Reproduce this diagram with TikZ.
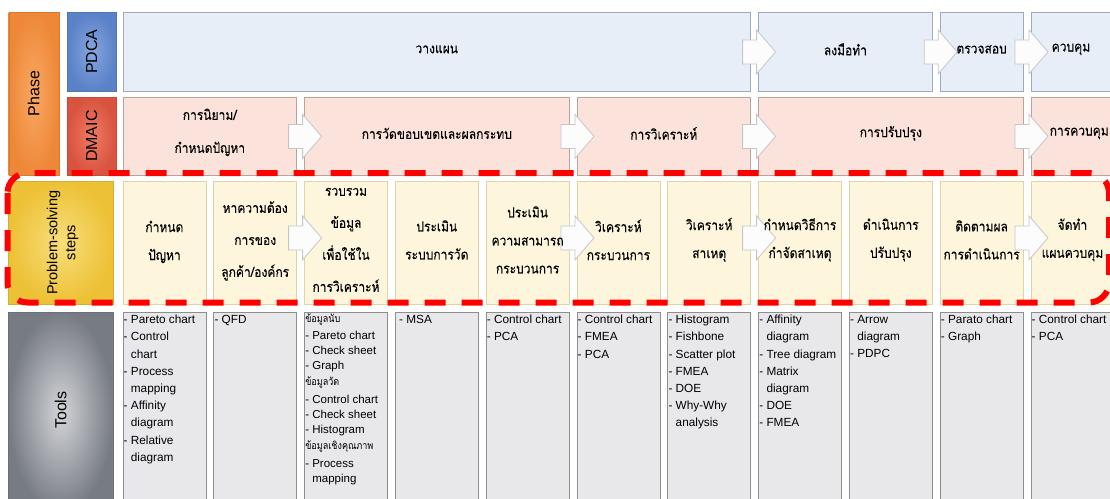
\documentclass[tikz,border=0pt]{standalone}
\usepackage{fontspec}
\setmainfont{Liberation Sans}
\newfontfamily\thai[Script=Thai, FakeStretch=0.86, FakeBold=0.15]{Loma}
\newfontfamily\thainote[Script=Thai, FakeStretch=0.86]{Loma}
\usetikzlibrary{calc}

% label tabs (radial shading: inner / outer)
\definecolor{phaseIn}{HTML}{F9A864}\definecolor{phaseOut}{HTML}{EE8838}
\definecolor{pdcaIn}{HTML}{86A6DE}\definecolor{pdcaOut}{HTML}{5A82C8}
\definecolor{dmaicIn}{HTML}{EE7B64}\definecolor{dmaicOut}{HTML}{D9533F}
\definecolor{psIn}{HTML}{F8DE7A}\definecolor{psOut}{HTML}{EDC136}
\definecolor{toolsIn}{HTML}{D3D5D9}\definecolor{toolsOut}{HTML}{777B83}
% cells
\definecolor{pdcaFill}{HTML}{E8EEF8}\definecolor{pdcaLine}{HTML}{9EABBB}
\definecolor{dmaicFill}{HTML}{FBE3DC}\definecolor{dmaicLine}{HTML}{BBA29B}
\definecolor{psFill}{HTML}{FDF6DD}\definecolor{psLine}{HTML}{DED5A6}
\definecolor{toolFill}{HTML}{E8E8EB}\definecolor{toolLine}{HTML}{8E8E8E}
\definecolor{arrowFill}{HTML}{FCFCFC}\definecolor{arrowLine}{HTML}{C6C6C6}
\definecolor{frameRed}{HTML}{FF0000}

\begin{document}
\begin{tikzpicture}[x=1pt,y=-1pt,
  cell/.style={rectangle, draw, line width=0.8pt, inner sep=0pt, anchor=north west},
  pdcacell/.style={cell, draw=pdcaLine, fill=pdcaFill, minimum height=79pt},
  dmaiccell/.style={cell, draw=dmaicLine, fill=dmaicFill, minimum height=78pt},
  pscell/.style={cell, draw=psLine, fill=psFill, minimum height=123pt, minimum width=83pt},
  toolcell/.style={cell, draw=toolLine, fill=toolFill, minimum height=200pt, minimum width=83pt},
  tag/.style={rectangle, inner sep=0pt, anchor=north west, draw=#1Out!90!black,
    line width=0.4pt, inner color=#1In, outer color=#1Out},
  tagtext/.style={font=\fontsize{16}{18}\selectfont, rotate=90, inner sep=0pt, align=center},
  thaitext/.style={font=\thai\fontsize{14}{28}\selectfont, align=center, inner sep=0pt},
  thaiwide/.style={font=\thai\fontsize{14}{32}\selectfont, align=center, inner sep=0pt},
  tooltext/.style={font=\fontsize{11.8}{17.2}\selectfont, align=left, anchor=north west, inner sep=0pt},
  blockarrow/.pic={\draw[draw=arrowLine, fill=arrowFill, line width=0.8pt]
    (-12,-12) -- (2,-12) -- (2,-22) -- (21,0) -- (2,22) -- (2,12) -- (-12,12) -- cycle;},
  dashframe/.style={draw=frameRed, line width=6pt, dash pattern=on 21pt off 16pt,
    rounded corners=20pt}
]
\useasboundingbox (0,0) rectangle (1110,498);
\clip (0,0) rectangle (1110,498);

% ---- row headers ----
\node[tag=phase, minimum width=50pt, minimum height=163pt] (phase) at (8.5,12) {};
\node[tagtext] (phaseT) at (phase.center) {Phase};
\node[tag=pdca, minimum width=49pt, minimum height=79pt] (pdca) at (67,12) {};
\node[tagtext] (pdcaT) at (pdca.center) {PDCA};
\node[tag=dmaic, minimum width=49pt, minimum height=78pt] (dmaic) at (67,97) {};
\node[tagtext] (dmaicT) at (dmaic.center) {DMAIC};
\node[tag=ps, minimum width=105pt, minimum height=123pt] (ps) at (8,181) {};
\node[tagtext, font=\fontsize{14.5}{18}\selectfont] (psT) at ([xshift=2pt]ps.center) {Problem-solving\\steps};
\node[tag=tools, minimum width=105pt, minimum height=200pt] (tools) at (8,312) {};
\node[tagtext] (toolsT) at ([yshift=2pt]tools.center) {Tools};

% ---- PDCA row ----
\node[pdcacell, minimum width=627.8pt] (p1) at (122.5,12) {};
\node[pdcacell, minimum width=173.8pt] (p2) at (758.1,12) {};
\node[pdcacell, minimum width=83pt] (p3) at (939.7,12) {};
\node[pdcacell, minimum width=83pt] (p4) at (1030.5,12) {};

% ---- DMAIC row ----
\node[dmaiccell, minimum width=173.8pt] (d1) at (122.5,97) {};
\node[dmaiccell, minimum width=264.6pt] (d2) at (304.1,97) {};
\node[dmaiccell, minimum width=173.8pt] (d3) at (576.5,97) {};
\node[dmaiccell, minimum width=264.6pt] (d4) at (758.1,97) {};
\node[dmaiccell, minimum width=83pt] (d5) at (1030.5,97) {};

% ---- problem-solving steps and tools ----
\foreach \k in {0,...,10}{
  \node[pscell] (s\k) at (122.5+90.8*\k,181) {};
  \node[toolcell] (t\k) at (122.5+90.8*\k,312) {};
}

% ---- block arrows between phases ----
\pic at ($(p1.east)!.5!(p2.west)$) {blockarrow};
\pic at ($(p2.east)!.5!(p3.west)$) {blockarrow};
\pic at ($(p3.east)!.5!(p4.west)$) {blockarrow};
\pic at ($(d1.east)!.5!(d2.west)$) {blockarrow};
\pic at ($(d2.east)!.5!(d3.west)$) {blockarrow};
\pic at ($(d3.east)!.5!(d4.west)$) {blockarrow};
\pic at ($(d4.east)!.5!(d5.west)$) {blockarrow};
\pic at ($(s1.east)!.5!(s2.west)+(0,-5)$) {blockarrow};
\pic at ($(s4.east)!.5!(s5.west)+(0,-5)$) {blockarrow};
\pic at ($(s6.east)!.5!(s7.west)+(0,-5)$) {blockarrow};
\pic at ($(s9.east)!.5!(s10.west)+(0,-5)$) {blockarrow};

% ---- PDCA labels ----
\node[thaitext] (p1T) at ([yshift=2.5pt]p1.center) {วางแผน};
\node[thaitext] (p2T) at ([yshift=2.5pt]p2.center) {ลงมือทำ};
\node[thaitext] (p3T) at ([yshift=2.5pt]p3.center) {ตรวจสอบ};
\node[thaitext, anchor=west] (p4T) at ([yshift=2.5pt]p4.west) {\hspace*{21pt}ควบคุม};

% ---- DMAIC labels ----
\node[thaitext, font=\thai\fontsize{14}{33}\selectfont] (d1T) at ([yshift=4pt]d1.center) {การนิยาม/\\กำหนดปัญหา};
\node[thaitext] (d2T) at ([yshift=3pt]d2.center) {การวัดขอบเขตและผลกระทบ};
\node[thaitext] (d3T) at ([yshift=3pt]d3.center) {การวิเคราะห์};
\node[thaitext] (d4T) at ([yshift=3pt]d4.center) {การปรับปรุง};
\node[thaitext, anchor=west] (d5T) at ([yshift=3pt]d5.west) {\hspace*{19pt}การควบคุม};

% ---- step labels ----
\node[thaitext] (s0T) at ([yshift=1pt]s0.center) {กำหนด\\ปัญหา};
\node[thaiwide] (s1T) at ([yshift=2pt]s1.center) {หาความต้อง\\การของ\\ลูกค้า/องค์กร};
\node[thaiwide] (s2T) at ([yshift=3pt]s2.center) {รวบรวม\\ข้อมูล\\เพื่อใช้ใน\\การวิเคราะห์};
\node[thaitext] (s3T) at ([yshift=3pt]s3.center) {ประเมิน\\ระบบการวัด};
\node[thaitext] (s4T) at ([yshift=3pt]s4.center) {ประเมิน\\ความสามารถ\\กระบวนการ};
\node[thaitext] (s5T) at ([yshift=3pt]s5.center) {วิเคราะห์\\กระบวนการ};
\node[thaitext] (s6T) at ([yshift=3pt]s6.center) {วิเคราะห์\\สาเหตุ};
\node[thaitext] (s7T) at ([yshift=3pt]s7.center) {กำหนดวิธีการ\\กำจัดสาเหตุ};
\node[thaitext] (s8T) at ([yshift=3pt]s8.center) {ดำเนินการ\\ปรับปรุง};
\node[thaitext] (s9T) at ([yshift=3pt]s9.center) {ติดตามผล\\การดำเนินการ};
\node[thaitext] (s10T) at ([yshift=3pt]s10.center) {จัดทำ\\แผนควบคุม};

% ---- tool lists ----
\newcommand\hang{\phantom{- }}
\newcommand\thaismall{\thainote\fontsize{10.5}{12}\selectfont}
\node[tooltext] (t0T) at ([xshift=1pt,yshift=-3pt]t0.north west)
  {- Pareto chart\\- Control\\\hang chart\\- Process\\\hang mapping\\- Affinity\\\hang diagram\\- Relative\\\hang diagram};
\node[tooltext] (t1T) at ([xshift=1pt,yshift=-3pt]t1.north west) {- QFD};
\node[tooltext, font=\fontsize{11.5}{15}\selectfont] (t2T) at ([xshift=1pt,yshift=-2pt]t2.north west)
  {{\thaismall ข้อมูลนับ}\\[2pt]- Pareto chart\\- Check sheet\\- Graph\\[1pt]
   {\thaismall ข้อมูลวัด}\\[3pt]- Control chart\\- Check sheet\\- Histogram\\[1pt]
   {\thaismall ข้อมูลเชิงคุณภาพ}\\[3pt]- Process\\\hang mapping};
\node[tooltext] (t3T) at ([xshift=4pt,yshift=-3pt]t3.north west) {- MSA};
\node[tooltext] (t4T) at ([xshift=1pt,yshift=-3pt]t4.north west) {- Control chart\\- PCA};
\node[tooltext] (t5T) at ([xshift=1pt,yshift=-3pt]t5.north west) {- Control chart\\- FMEA\\- PCA};
\node[tooltext] (t6T) at ([xshift=1pt,yshift=-3pt]t6.north west)
  {- Histogram\\- Fishbone\\- Scatter plot\\- FMEA\\- DOE\\- Why-Why\\\hang analysis};
\node[tooltext] (t7T) at ([xshift=1pt,yshift=-3pt]t7.north west)
  {- Affinity\\\hang diagram\\- Tree diagram\\- Matrix\\\hang diagram\\- DOE\\- FMEA};
\node[tooltext] (t8T) at ([xshift=1pt,yshift=-3pt]t8.north west) {- Arrow\\\hang diagram\\- PDPC};
\node[tooltext] (t9T) at ([xshift=1pt,yshift=-3pt]t9.north west) {- Parato chart\\- Graph};
\node[tooltext] (t10T) at ([xshift=1pt,yshift=-3pt]t10.north west) {- Control chart\\- PCA};

% ---- highlight frame round the problem-solving row ----
\draw[dashframe] (7.5,173) rectangle (1109,302.5);
\end{tikzpicture}
\end{document}
